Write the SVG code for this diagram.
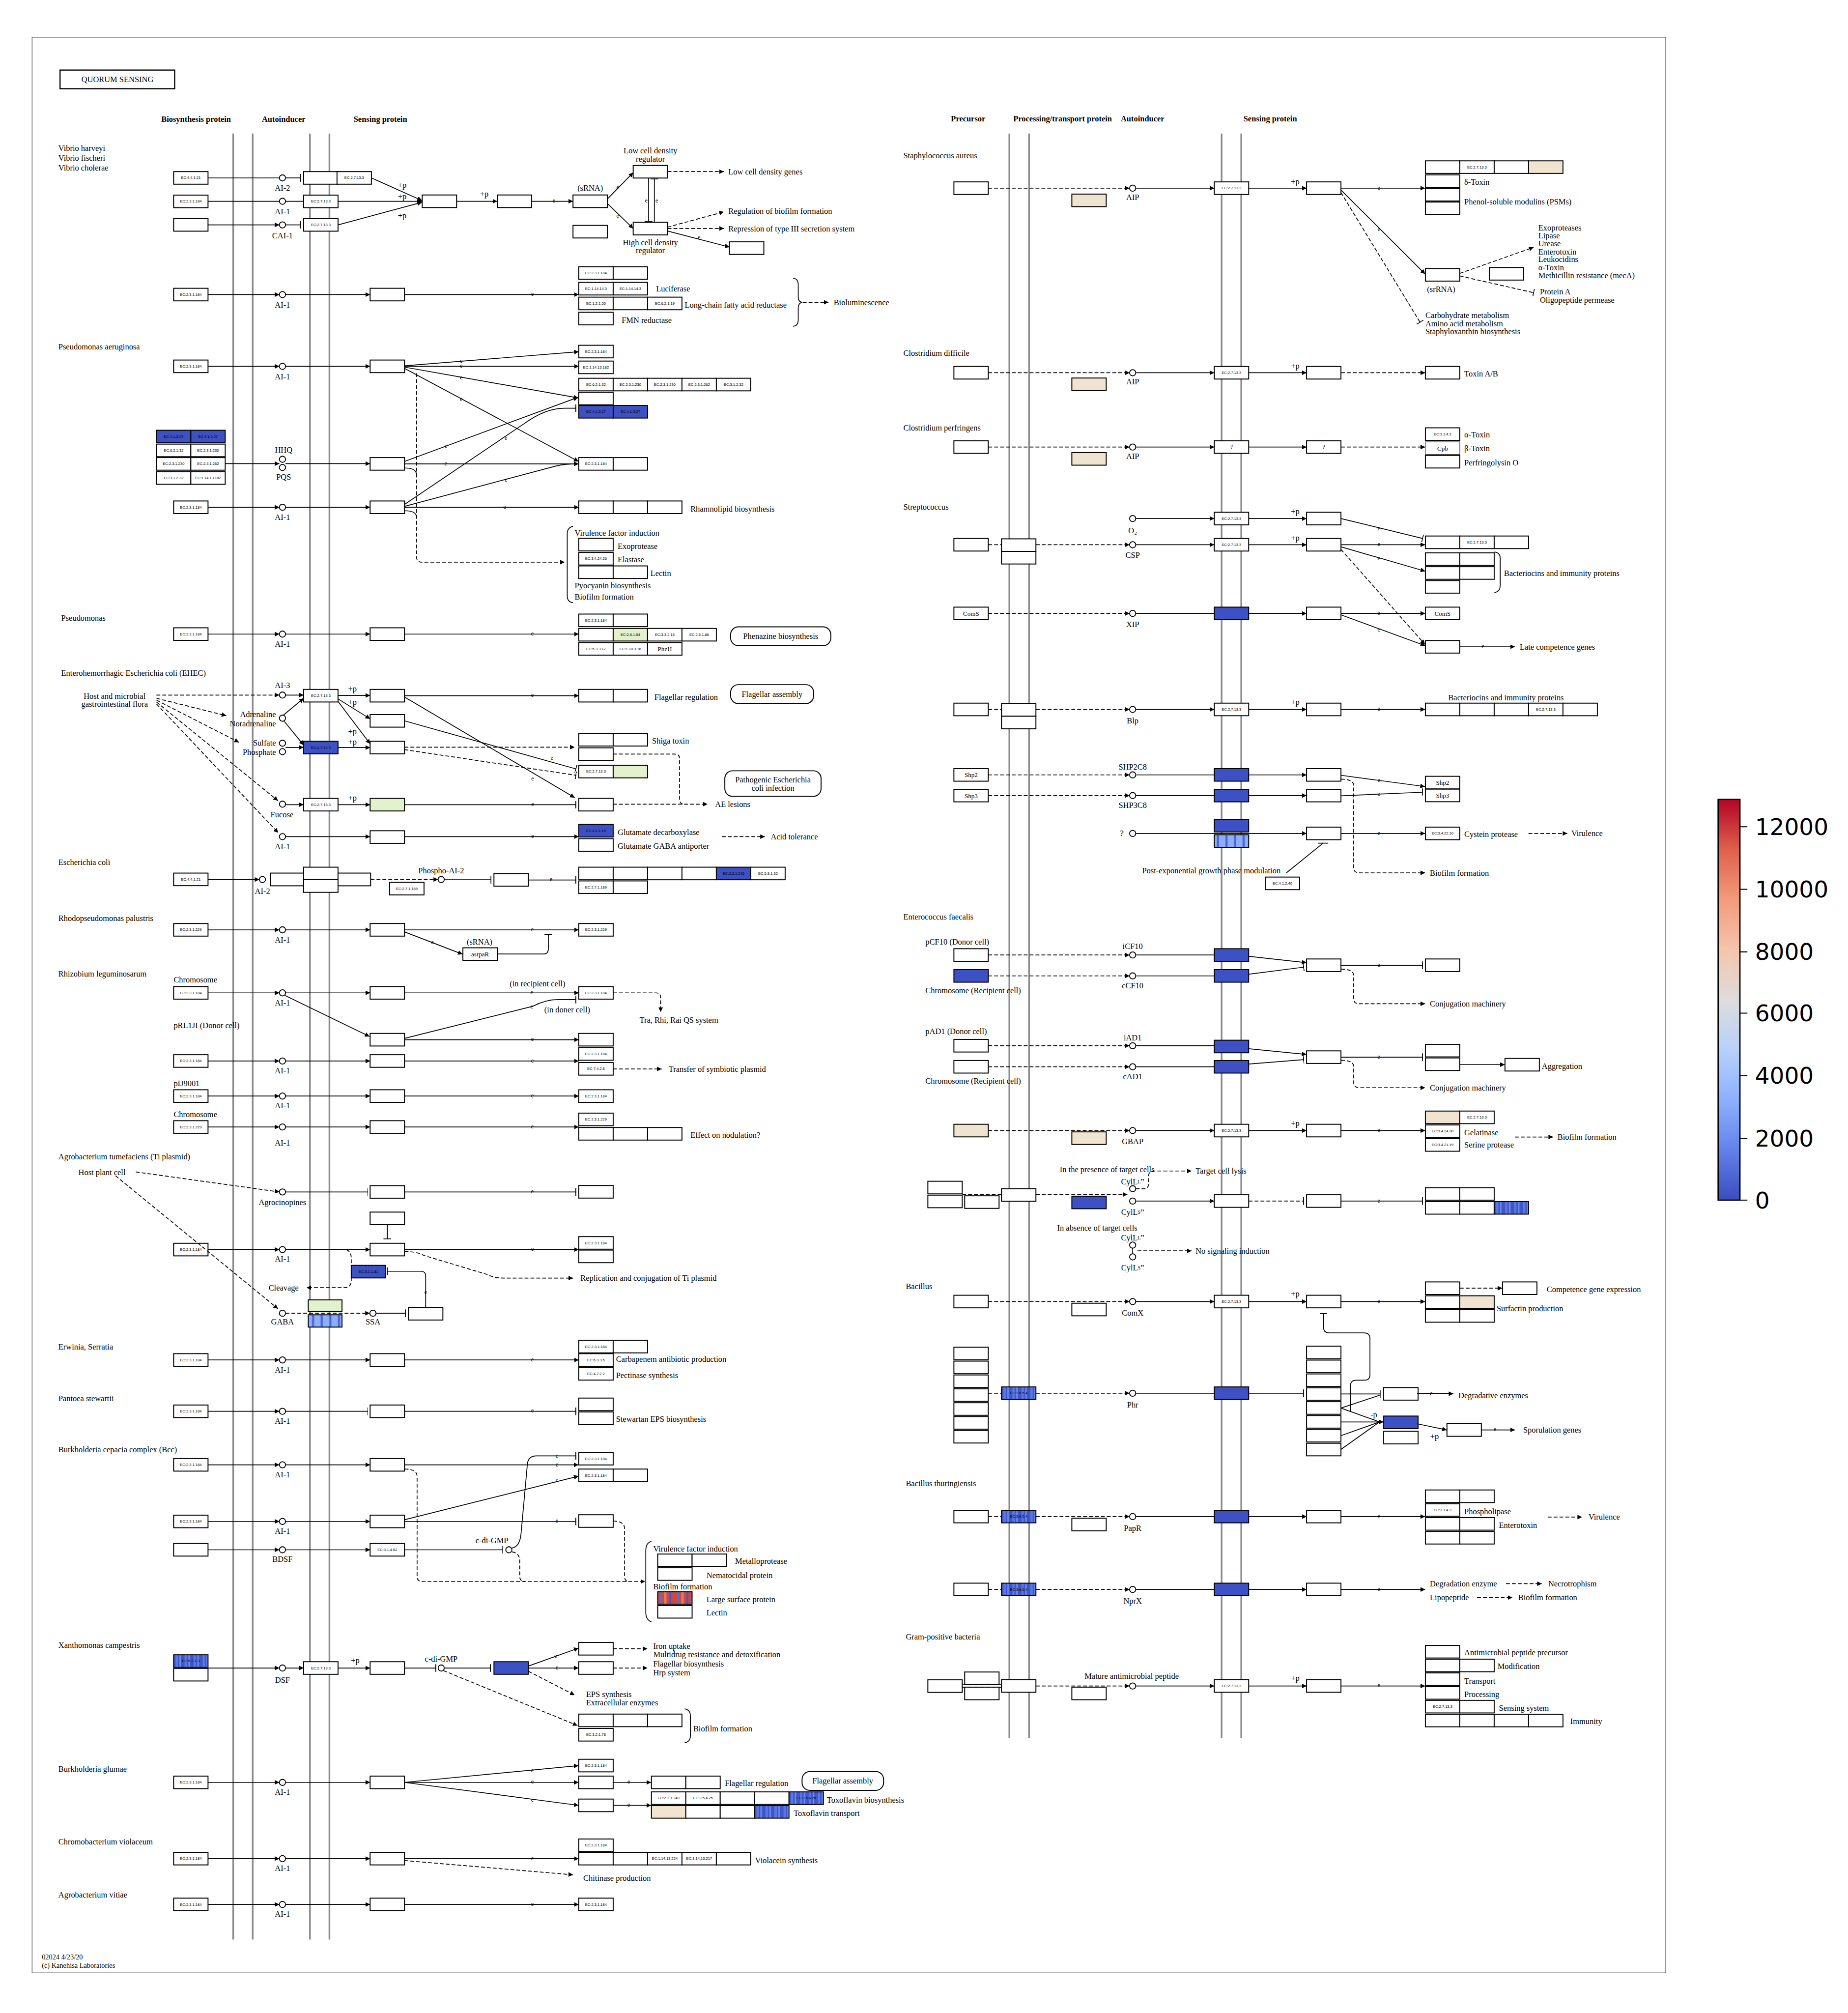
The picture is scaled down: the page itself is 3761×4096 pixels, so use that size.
<svg xmlns="http://www.w3.org/2000/svg" width="3761" height="4096" viewBox="0 0 3761 4096">
<defs>
<style>
.t{font-family:"Liberation Serif",serif;font-size:6.3px;dominant-baseline:central;fill:#000}
.m{text-anchor:middle}
.h{font-family:"Liberation Serif",serif;font-size:6.3px;font-weight:bold;text-anchor:middle;dominant-baseline:central}
.ec{font-family:"Liberation Sans",sans-serif;font-size:2.9px;text-anchor:middle;dominant-baseline:central}
.e{font-family:"Liberation Serif",serif;font-size:4.6px;text-anchor:middle;dominant-baseline:central}
.cb{font-family:"DejaVu Sans",sans-serif;font-size:18px;dominant-baseline:central}
.w{fill:#fff;stroke:#000;stroke-width:.75}
.bl{fill:#3d51c4;stroke:#000;stroke-width:.75}
.be{fill:#f0e4d0;stroke:#000;stroke-width:.75}
.gr{fill:#e3f1cc;stroke:#000;stroke-width:.75}
.sb{fill:url(#sb);stroke:#000;stroke-width:.75}
.sl{fill:url(#sl);stroke:#000;stroke-width:.75}
.sr{fill:url(#sr);stroke:#000;stroke-width:.75}
.c{fill:#fff;stroke:#000;stroke-width:.7}
.l{fill:none;stroke:#000;stroke-width:.65}
.d{stroke-dasharray:3 1.6}
.a{marker-end:url(#a)}
.i{marker-end:url(#i)}
.mem{stroke:#8a8a8a;stroke-width:1.3;fill:none}
</style>
<rect id="bx" width="26.8" height="9.8"/>
<marker id="a" viewBox="0 0 10 10" refX="10" refY="5" markerWidth="3.6" markerHeight="3.6" markerUnits="userSpaceOnUse" orient="auto"><path d="M0,0L10,5L0,10z"/></marker>
<marker id="i" viewBox="0 0 2 10" refX="1" refY="5" markerWidth=".7" markerHeight="6" markerUnits="userSpaceOnUse" orient="auto" preserveAspectRatio="none"><rect width="2" height="10"/></marker>
<pattern id="sb" patternUnits="userSpaceOnUse" width="7" height="20"><rect width="7" height="20" fill="#3f55c9"/><rect x="1.5" width="1.8" height="20" fill="#5a78e0"/><rect x="4.5" width="1.2" height="20" fill="#6b8cee"/></pattern>
<pattern id="sl" patternUnits="userSpaceOnUse" width="6.7" height="20"><rect width="6.7" height="20" fill="#8caefb"/><rect x="2" width="1.6" height="20" fill="#4a62d6"/></pattern>
<pattern id="sr" patternUnits="userSpaceOnUse" width="13.4" height="20"><rect width="13.4" height="20" fill="#cf4a3e"/><rect x="2" width="1.5" height="20" fill="#5a6fd0"/><rect x="5" width="1.8" height="20" fill="#e87a62"/><rect x="9" width="1.5" height="20" fill="#4457c8"/></pattern>
<linearGradient id="cw" x1="0" y1="1" x2="0" y2="0"><stop offset="0" stop-color="#3b4cc0"/><stop offset=".125" stop-color="#6282ea"/><stop offset=".25" stop-color="#8db0fe"/><stop offset=".375" stop-color="#b8d0f9"/><stop offset=".5" stop-color="#dddcdc"/><stop offset=".625" stop-color="#f5c4ac"/><stop offset=".75" stop-color="#f39a7b"/><stop offset=".875" stop-color="#de604d"/><stop offset="1" stop-color="#b40426"/></linearGradient>
</defs>
<rect width="3761" height="4096" fill="#fff"/>
<g transform="scale(2.6118)">
<rect x="25" y="29" width="1273" height="1508" fill="none" stroke="#444" stroke-width=".5"/>
<g id="title"><rect x="46.8" y="54.6" width="89.3" height="14.5" fill="#fff" stroke="#000" stroke-width=".9"/><text class="t m" x="91.5" y="62">QUORUM SENSING</text></g>
<g id="headers">
<text class="h" x="152.8" y="92.8">Biosynthesis protein</text><text class="h" x="221" y="92.8">Autoinducer</text><text class="h" x="296.4" y="92.8">Sensing protein</text>
<text class="h" x="754.4" y="92.6">Precursor</text><text class="h" x="828" y="92.6">Processing/transport protein</text><text class="h" x="890.3" y="92.6">Autoinducer</text><text class="h" x="989.8" y="92.6">Sensing protein</text>
</g>
<g id="membranes">
<path class="mem" d="M181.7,104V1511M196.9,104V1511M241.5,104V1511M256.7,104V1511M786.5,104V1354M801.9,104V1354M951.9,104V1354M967.2,104V1354"/>
</g>
<g id="footer"><text class="t" x="32.6" y="1524.8" style="font-size:5.5px">02024 4/23/20</text><text class="t" x="32.6" y="1531.2" style="font-size:5.5px">(c) Kanehisa Laboratories</text></g>

<!-- ===== LEFT NODES ===== -->
<g id="vibrio">
<text class="t" x="45.5" y="115.5">Vibrio harveyi</text><text class="t" x="45.5" y="123">Vibrio fischeri</text><text class="t" x="45.5" y="130.7">Vibrio cholerae</text>
<g transform="translate(135.3,133.7)"><use href="#bx" class="w"/><text class="ec" x="13.4" y="4.9">EC:4.4.1.21</text></g>
<g transform="translate(135.3,152)"><use href="#bx" class="w"/><text class="ec" x="13.4" y="4.9">EC:2.3.1.184</text></g>
<use href="#bx" class="w" x="135.3" y="170.3"/>
<circle class="c" cx="220.1" cy="138.6" r="2.4"/><circle class="c" cx="220.1" cy="156.8" r="2.4"/><circle class="c" cx="220.1" cy="175.2" r="2.4"/>
<text class="t m" x="220.1" y="146.5">AI-2</text><text class="t m" x="220.1" y="164.9">AI-1</text><text class="t m" x="220.1" y="183.7">CAI-1</text>
<use href="#bx" class="w" x="236.6" y="133.7"/>
<g transform="translate(262.6,133.7)"><use href="#bx" class="w"/><text class="ec" x="13.4" y="4.9">EC:2.7.13.3</text></g>
<g transform="translate(236.6,152)"><use href="#bx" class="w"/><text class="ec" x="13.4" y="4.9">EC:2.7.13.3</text></g>
<g transform="translate(236.6,170.3)"><use href="#bx" class="w"/><text class="ec" x="13.4" y="4.9">EC:2.7.13.3</text></g>
<text class="t m" x="313.4" y="144.2">+p</text><text class="t m" x="313.4" y="153">+p</text><text class="t m" x="313.4" y="167.9">+p</text>
<use href="#bx" class="w" x="329" y="151.9"/><use href="#bx" class="w" x="387.5" y="151.9"/><text class="t m" x="377.3" y="151">+p</text>
<use href="#bx" class="w" x="446.5" y="151.9"/><text class="t m" x="459.9" y="146.5">(sRNA)</text>
<use href="#bx" class="w" x="446.5" y="175.6"/>
<use href="#bx" class="w" x="493.4" y="128.9"/><text class="t m" x="506.8" y="117.3">Low cell density</text><text class="t m" x="506.8" y="124">regulator</text>
<use href="#bx" class="w" x="493.4" y="173.2"/><text class="t m" x="506.8" y="189">High cell density</text><text class="t m" x="506.8" y="195">regulator</text>
<text class="t" x="567.5" y="133.7">Low cell density genes</text>
<text class="t" x="567.5" y="164.3">Regulation of biofilm formation</text>
<text class="t" x="567.5" y="178.1">Repression of type III secretion system</text>
<use href="#bx" class="w" x="568.4" y="188.4"/>
</g>
<g id="vibrio-biolum">
<g transform="translate(135.3,224.6)"><use href="#bx" class="w"/><text class="ec" x="13.4" y="4.9">EC:2.3.1.184</text></g>
<circle class="c" cx="220.1" cy="229.5" r="2.4"/><text class="t m" x="220.1" y="237.4">AI-1</text>
<use href="#bx" class="w" x="288.4" y="224.6"/>
<g transform="translate(451,207.8)"><use href="#bx" class="w"/><text class="ec" x="13.4" y="4.9">EC:2.3.1.184</text></g><use href="#bx" class="w" x="477.8" y="207.8"/>
<g transform="translate(451,220)"><use href="#bx" class="w"/><text class="ec" x="13.4" y="4.9">EC:1.14.14.3</text></g>
<g transform="translate(477.8,220)"><use href="#bx" class="w"/><text class="ec" x="13.4" y="4.9">EC:1.14.14.3</text></g>
<text class="t" x="511.2" y="225">Luciferase</text>
<g transform="translate(451,231.5)"><use href="#bx" class="w"/><text class="ec" x="13.4" y="4.9">EC:1.2.1.50</text></g><use href="#bx" class="w" x="477.8" y="231.5"/>
<g transform="translate(504.6,231.5)"><use href="#bx" class="w"/><text class="ec" x="13.4" y="4.9">EC:6.2.1.19</text></g>
<text class="t" x="533.5" y="237.4">Long-chain fatty acid reductase</text>
<use href="#bx" class="w" x="451" y="243.3"/><text class="t" x="484.4" y="249.3">FMN reductase</text>
<path class="l" d="M618,216.7Q622,217 622,222V231Q622,235.5 625,235.5Q622,236 622,240V249Q622,254 618,254.2"/>
<text class="t" x="649.6" y="235.5">Bioluminescence</text>
</g>
<g id="p-aeruginosa">
<text class="t" x="45.5" y="270">Pseudomonas aeruginosa</text>
<g transform="translate(135.3,280.5)"><use href="#bx" class="w"/><text class="ec" x="13.4" y="4.9">EC:2.3.1.184</text></g>
<circle class="c" cx="220.1" cy="285.4" r="2.4"/><text class="t m" x="220.1" y="293.4">AI-1</text>
<use href="#bx" class="w" x="288.4" y="280.5"/>
<g transform="translate(451,269)"><use href="#bx" class="w"/><text class="ec" x="13.4" y="4.9">EC:2.3.1.184</text></g>
<g transform="translate(451,281.3)"><use href="#bx" class="w"/><text class="ec" x="13.4" y="4.9">EC:1.14.13.182</text></g>
<g transform="translate(451,294.7)"><use href="#bx" class="w"/><text class="ec" x="13.4" y="4.9">EC:6.2.1.32</text></g>
<g transform="translate(477.8,294.7)"><use href="#bx" class="w"/><text class="ec" x="13.4" y="4.9">EC:2.3.1.230</text></g>
<g transform="translate(504.6,294.7)"><use href="#bx" class="w"/><text class="ec" x="13.4" y="4.9">EC:2.3.1.230</text></g>
<g transform="translate(531.4,294.7)"><use href="#bx" class="w"/><text class="ec" x="13.4" y="4.9">EC:2.3.1.262</text></g>
<g transform="translate(558.2,294.7)"><use href="#bx" class="w"/><text class="ec" x="13.4" y="4.9">EC:3.1.2.32</text></g>
<use href="#bx" class="w" x="451" y="305.6"/>
<g transform="translate(451,315.9)"><use href="#bx" class="bl"/><text class="ec" x="13.4" y="4.9">EC:4.1.3.27</text></g>
<g transform="translate(477.8,315.9)"><use href="#bx" class="bl"/><text class="ec" x="13.4" y="4.9">EC:4.1.3.27</text></g>
<g transform="translate(121.9,335.2)"><use href="#bx" class="bl"/><text class="ec" x="13.4" y="4.9">EC:4.1.3.27</text></g>
<g transform="translate(148.7,335.2)"><use href="#bx" class="bl"/><text class="ec" x="13.4" y="4.9">EC:4.1.3.27</text></g>
<g transform="translate(121.9,346)"><use href="#bx" class="w"/><text class="ec" x="13.4" y="4.9">EC:6.2.1.32</text></g>
<g transform="translate(148.7,346)"><use href="#bx" class="w"/><text class="ec" x="13.4" y="4.9">EC:2.3.1.230</text></g>
<g transform="translate(121.9,356.5)"><use href="#bx" class="w"/><text class="ec" x="13.4" y="4.9">EC:2.3.1.230</text></g>
<g transform="translate(148.7,356.5)"><use href="#bx" class="w"/><text class="ec" x="13.4" y="4.9">EC:2.3.1.262</text></g>
<g transform="translate(121.9,367.5)"><use href="#bx" class="w"/><text class="ec" x="13.4" y="4.9">EC:3.1.2.32</text></g>
<g transform="translate(148.7,367.5)"><use href="#bx" class="w"/><text class="ec" x="13.4" y="4.9">EC:1.14.13.182</text></g>
<circle class="c" cx="220.1" cy="357.8" r="2.4"/><circle class="c" cx="220.1" cy="364.2" r="2.4"/>
<text class="t m" x="221" y="350.7">HHQ</text><text class="t m" x="221" y="371.6">PQS</text>
<use href="#bx" class="w" x="288.4" y="356.5"/>
<g transform="translate(451,356.5)"><use href="#bx" class="w"/><text class="ec" x="13.4" y="4.9">EC:2.3.1.184</text></g><use href="#bx" class="w" x="477.8" y="356.5"/>
<g transform="translate(135.3,390.3)"><use href="#bx" class="w"/><text class="ec" x="13.4" y="4.9">EC:2.3.1.184</text></g>
<circle class="c" cx="220.1" cy="395.2" r="2.4"/><text class="t m" x="220.1" y="402.8">AI-1</text>
<use href="#bx" class="w" x="288.4" y="390.3"/>
<use href="#bx" class="w" x="451" y="390.3"/><use href="#bx" class="w" x="477.8" y="390.3"/><use href="#bx" class="w" x="504.6" y="390.3"/>
<text class="t" x="538" y="396.5">Rhamnolipid biosynthesis</text>
<path class="l" d="M446.5,410Q442,411 442,416V464Q442,469 446.5,469.5"/>
<text class="t" x="447.8" y="415.2">Virulence factor induction</text>
<use href="#bx" class="w" x="451" y="419.4"/><text class="t" x="481.3" y="425.5">Exoprotease</text>
<g transform="translate(451,430.4)"><use href="#bx" class="w"/><text class="ec" x="13.4" y="4.9">EC:3.4.24.26</text></g><text class="t" x="481.3" y="436">Elastase</text>
<use href="#bx" class="w" x="451" y="440.9"/><use href="#bx" class="w" x="477.8" y="440.9"/><text class="t" x="506.8" y="446.8">Lectin</text>
<text class="t" x="447.8" y="456.3">Pyocyanin biosynthesis</text><text class="t" x="447.8" y="464.9">Biofilm formation</text>
</g>
<g id="pseudomonas">
<text class="t" x="47.7" y="481.3">Pseudomonas</text>
<g transform="translate(135.3,489.1)"><use href="#bx" class="w"/><text class="ec" x="13.4" y="4.9">EC:2.3.1.184</text></g>
<circle class="c" cx="220.1" cy="494" r="2.4"/><text class="t m" x="220.1" y="501.6">AI-1</text>
<use href="#bx" class="w" x="288.4" y="489.1"/>
<g transform="translate(451,478.4)"><use href="#bx" class="w"/><text class="ec" x="13.4" y="4.9">EC:2.3.1.184</text></g><use href="#bx" class="w" x="477.8" y="478.4"/>
<use href="#bx" class="w" x="451" y="489.6"/>
<g transform="translate(477.8,489.6)"><use href="#bx" class="gr"/><text class="ec" x="13.4" y="4.9">EC:2.5.1.54</text></g>
<g transform="translate(504.6,489.6)"><use href="#bx" class="w"/><text class="ec" x="13.4" y="4.9">EC:3.3.2.15</text></g>
<g transform="translate(531.4,489.6)"><use href="#bx" class="w"/><text class="ec" x="13.4" y="4.9">EC:2.6.1.86</text></g>
<g transform="translate(451,500.6)"><use href="#bx" class="w"/><text class="ec" x="13.4" y="4.9">EC:5.3.3.17</text></g>
<g transform="translate(477.8,500.6)"><use href="#bx" class="w"/><text class="ec" x="13.4" y="4.9">EC:1.10.3.16</text></g>
<g transform="translate(504.6,500.6)"><use href="#bx" class="w"/><text class="t m" x="13.4" y="5" style="font-size:5px">PhzH</text></g>
<rect x="569.3" y="488.4" width="78.1" height="14.6" rx="6" class="w"/><text class="t m" x="608.3" y="495.7">Phenazine biosynthesis</text>
</g>
<g id="ehec">
<text class="t" x="47.7" y="524.2">Enterohemorrhagic Escherichia coli (EHEC)</text>
<text class="t m" x="89.3" y="542.2">Host and microbial</text><text class="t m" x="89.3" y="548.5">gastrointestinal flora</text>
<circle class="c" cx="220.1" cy="541.5" r="2.4"/><text class="t m" x="220.1" y="533.9">AI-3</text>
<g transform="translate(236.6,537.1)"><use href="#bx" class="w"/><text class="ec" x="13.4" y="4.9">EC:2.7.13.3</text></g>
<text class="t m" x="274.6" y="536.5">+p</text><text class="t m" x="274.6" y="547">+p</text><text class="t m" x="274.6" y="569.9">+p</text><text class="t m" x="274.6" y="578">+p</text>
<use href="#bx" class="w" x="288.4" y="537.1"/><use href="#bx" class="w" x="288.4" y="556.7"/><use href="#bx" class="w" x="288.4" y="577.5"/>
<use href="#bx" class="w" x="451" y="537.1"/><use href="#bx" class="w" x="477.8" y="537.1"/>
<text class="t" x="509.9" y="543">Flagellar regulation</text>
<rect x="569.3" y="533.4" width="64.7" height="14.7" rx="6" class="w"/><text class="t m" x="601.6" y="540.8">Flagellar assembly</text>
<circle class="c" cx="220.1" cy="559.5" r="2.4"/>
<text class="t" x="215" y="556.7" text-anchor="end">Adrenaline</text><text class="t" x="215" y="563.7" text-anchor="end">Noradrenaline</text>
<circle class="c" cx="220.1" cy="579" r="2.4"/><circle class="c" cx="220.1" cy="585.6" r="2.4"/>
<text class="t" x="215" y="578.6" text-anchor="end">Sulfate</text><text class="t" x="215" y="586" text-anchor="end">Phosphate</text>
<g transform="translate(236.6,577.5)"><use href="#bx" class="bl"/><text class="ec" x="13.4" y="4.9">EC:2.7.13.3</text></g>
<use href="#bx" class="w" x="451" y="571.4"/><use href="#bx" class="w" x="477.8" y="571.4"/><text class="t" x="508.1" y="577">Shiga toxin</text>
<use href="#bx" class="w" x="451" y="582.6"/>
<g transform="translate(451,596.2)"><use href="#bx" class="w"/><text class="ec" x="13.4" y="4.9">EC:2.7.13.3</text></g><use href="#bx" class="gr" x="477.8" y="596.2"/>
<rect x="564.8" y="600.5" width="75" height="19.9" rx="6" class="w"/><text class="t m" x="602.3" y="607.3">Pathogenic Escherichia</text><text class="t m" x="602.3" y="614">coli infection</text>
<circle class="c" cx="220.1" cy="626.5" r="2.4"/><text class="t m" x="219.7" y="634.5">Fucose</text>
<g transform="translate(236.6,622)"><use href="#bx" class="w"/><text class="ec" x="13.4" y="4.9">EC:2.7.13.3</text></g>
<text class="t m" x="274.6" y="621.5">+p</text>
<use href="#bx" class="gr" x="288.4" y="622"/>
<use href="#bx" class="w" x="451" y="622"/><text class="t" x="557.2" y="626.5">AE lesions</text>
<circle class="c" cx="220.1" cy="651.8" r="2.4"/><text class="t m" x="220.1" y="659.5">AI-1</text>
<use href="#bx" class="w" x="288.4" y="647.2"/>
<g transform="translate(451,642.3)"><use href="#bx" class="bl"/><text class="ec" x="13.4" y="4.9">EC:4.1.1.15</text></g><text class="t" x="481.3" y="648.5">Glutamate decarboxylase</text>
<use href="#bx" class="w" x="451" y="653.4"/><text class="t" x="481.3" y="659.2">Glutamate GABA antiporter</text>
<text class="t" x="600.5" y="652">Acid tolerance</text>
</g>
<g id="ecoli">
<text class="t" x="45.5" y="671.7">Escherichia coli</text>
<g transform="translate(135.3,680.2)"><use href="#bx" class="w"/><text class="ec" x="13.4" y="4.9">EC:4.4.1.21</text></g>
<circle class="c" cx="204.5" cy="685.2" r="2.4"/><text class="t m" x="204.5" y="694.4">AI-2</text>
<rect class="w" x="210.7" y="680.2" width="25.9" height="9.9"/><rect class="w" x="236.6" y="675.6" width="26.8" height="9.6"/><rect class="w" x="236.6" y="685.2" width="26.8" height="10"/><rect class="w" x="263.4" y="680.2" width="25.4" height="9.9"/>
<circle class="c" cx="343.8" cy="685.2" r="2.4"/><text class="t m" x="343.8" y="678.2">Phospho-AI-2</text>
<g transform="translate(303.6,687.4)"><use href="#bx" class="w"/><text class="ec" x="13.4" y="4.9">EC:2.7.1.189</text></g>
<use href="#bx" class="w" x="384.9" y="680.6"/>
<use href="#bx" class="w" x="451" y="675.6"/><use href="#bx" class="w" x="477.8" y="675.6"/><use href="#bx" class="w" x="504.6" y="675.6"/><use href="#bx" class="w" x="531.4" y="675.6"/>
<g transform="translate(558.2,675.6)"><use href="#bx" class="bl"/><text class="ec" x="13.4" y="4.9">EC:2.3.1.245</text></g>
<g transform="translate(585,675.6)"><use href="#bx" class="w"/><text class="ec" x="13.4" y="4.9">EC:5.3.1.32</text></g>
<g transform="translate(451,686.3)"><use href="#bx" class="w"/><text class="ec" x="13.4" y="4.9">EC:2.7.1.189</text></g><use href="#bx" class="w" x="477.8" y="686.3"/>
</g>
<g id="rhodopseudomonas">
<text class="t" x="45.5" y="715.4">Rhodopseudomonas palustris</text>
<g transform="translate(135.3,719.5)"><use href="#bx" class="w"/><text class="ec" x="13.4" y="4.9">EC:2.3.1.229</text></g>
<circle class="c" cx="220.1" cy="724.4" r="2.4"/><text class="t m" x="220.1" y="732.3">AI-1</text>
<use href="#bx" class="w" x="288.4" y="719.5"/>
<g transform="translate(451,719.5)"><use href="#bx" class="w"/><text class="ec" x="13.4" y="4.9">EC:2.3.1.229</text></g>
<g transform="translate(360.7,738.4)"><use href="#bx" class="w"/><text class="t m" x="13.4" y="5" style="font-size:5px">asrpaR</text></g>
<text class="t m" x="373.7" y="733.8">(sRNA)</text>
</g>
<g id="rhizobium">
<text class="t" x="45.5" y="758.5">Rhizobium leguminosarum</text>
<text class="t" x="135.3" y="763.4">Chromosome</text>
<g transform="translate(135.3,768.6)"><use href="#bx" class="w"/><text class="ec" x="13.4" y="4.9">EC:2.3.1.184</text></g>
<circle class="c" cx="220.1" cy="773.5" r="2.4"/><text class="t m" x="220.1" y="781.3">AI-1</text>
<use href="#bx" class="w" x="288.4" y="768.6"/>
<g transform="translate(451,768.6)"><use href="#bx" class="w"/><text class="ec" x="13.4" y="4.9">EC:2.3.1.184</text></g>
<text class="t m" x="418.8" y="766.4">(in recipient cell)</text><text class="t m" x="442" y="786.8">(in doner cell)</text>
<text class="t m" x="529" y="794.6">Tra, Rhi, Rai QS system</text>
<text class="t" x="135.3" y="799">pRL1JI (Donor cell)</text>
<use href="#bx" class="w" x="288.4" y="805.1"/><use href="#bx" class="w" x="451" y="805.1"/>
<g transform="translate(135.3,821.7)"><use href="#bx" class="w"/><text class="ec" x="13.4" y="4.9">EC:2.3.1.184</text></g>
<circle class="c" cx="220.1" cy="826.6" r="2.4"/><text class="t m" x="220.1" y="834">AI-1</text>
<use href="#bx" class="w" x="288.4" y="821.7"/>
<g transform="translate(451,816.2)"><use href="#bx" class="w"/><text class="ec" x="13.4" y="4.9">EC:2.3.1.184</text></g>
<g transform="translate(451,827.8)"><use href="#bx" class="w"/><text class="ec" x="13.4" y="4.9">EC:7.4.2.8</text></g>
<text class="t" x="521" y="832.8">Transfer of symbiotic plasmid</text>
<text class="t" x="135.3" y="844">pIJ9001</text>
<g transform="translate(135.3,849)"><use href="#bx" class="w"/><text class="ec" x="13.4" y="4.9">EC:2.3.1.184</text></g>
<circle class="c" cx="220.1" cy="853.9" r="2.4"/><text class="t m" x="220.1" y="861.4">AI-1</text>
<use href="#bx" class="w" x="288.4" y="849"/>
<g transform="translate(451,849)"><use href="#bx" class="w"/><text class="ec" x="13.4" y="4.9">EC:2.3.1.184</text></g>
<text class="t" x="135.3" y="868">Chromosome</text>
<g transform="translate(135.3,873.1)"><use href="#bx" class="w"/><text class="ec" x="13.4" y="4.9">EC:2.3.1.229</text></g>
<circle class="c" cx="220.1" cy="878" r="2.4"/><text class="t m" x="220.1" y="890.5">AI-1</text>
<use href="#bx" class="w" x="288.4" y="873.1"/>
<g transform="translate(451,867.2)"><use href="#bx" class="w"/><text class="ec" x="13.4" y="4.9">EC:2.3.1.229</text></g>
<use href="#bx" class="w" x="451" y="878.4"/><use href="#bx" class="w" x="477.8" y="878.4"/><use href="#bx" class="w" x="504.6" y="878.4"/>
<text class="t" x="538" y="884.3">Effect on nodulation?</text>
</g>
<g id="agrobacterium">
<text class="t" x="45.5" y="901.2">Agrobacterium tumefaciens (Ti plasmid)</text>
<text class="t" x="61.1" y="913.3">Host plant cell</text>
<circle class="c" cx="220.1" cy="928.6" r="2.4"/><text class="t m" x="220.1" y="936.9">Agrocinopines</text>
<use href="#bx" class="w" x="288.4" y="923.7"/><use href="#bx" class="w" x="451" y="923.6"/>
<use href="#bx" class="w" x="288.4" y="944.3"/>
<g transform="translate(135.3,968.6)"><use href="#bx" class="w"/><text class="ec" x="13.4" y="4.9">EC:2.3.1.184</text></g>
<circle class="c" cx="220.1" cy="973.5" r="2.4"/><text class="t m" x="220.1" y="980.8">AI-1</text>
<use href="#bx" class="w" x="288.4" y="968.6"/>
<g transform="translate(451,963.4)"><use href="#bx" class="w"/><text class="ec" x="13.4" y="4.9">EC:2.3.1.184</text></g><use href="#bx" class="w" x="451" y="973.9"/>
<text class="t" x="452.3" y="995.7">Replication and conjugation of Ti plasmid</text>
<g transform="translate(273.7,985.8)"><use href="#bx" class="bl"/><text class="ec" x="13.4" y="4.9">EC:3.1.1.81</text></g>
<use href="#bx" class="w" x="318.3" y="1018.6"/>
<text class="t m" x="221" y="1003.2">Cleavage</text>
<circle class="c" cx="220.1" cy="1023.1" r="2.4"/><text class="t m" x="220.1" y="1029.7">GABA</text>
<rect class="gr" x="240.2" y="1012.7" width="26.3" height="9.2"/><rect class="sl" x="240.2" y="1024.3" width="26.3" height="9.6"/>
<circle class="c" cx="290.6" cy="1023.1" r="2.4"/><text class="t m" x="290.6" y="1029.7">SSA</text>
</g>
<g id="erwinia">
<text class="t" x="45.5" y="1049.3">Erwinia, Serratia</text>
<g transform="translate(135.3,1054.6)"><use href="#bx" class="w"/><text class="ec" x="13.4" y="4.9">EC:2.3.1.184</text></g>
<circle class="c" cx="220.1" cy="1059.5" r="2.4"/><text class="t m" x="220.1" y="1067.3">AI-1</text>
<use href="#bx" class="w" x="288.4" y="1054.6"/>
<g transform="translate(451,1044.2)"><use href="#bx" class="w"/><text class="ec" x="13.4" y="4.9">EC:2.3.1.184</text></g><use href="#bx" class="w" x="477.8" y="1044.2"/>
<g transform="translate(451,1054.6)"><use href="#bx" class="w"/><text class="ec" x="13.4" y="4.9">EC:6.3.3.6</text></g>
<g transform="translate(451,1065.4)"><use href="#bx" class="w"/><text class="ec" x="13.4" y="4.9">EC:4.2.2.2</text></g>
<text class="t" x="480" y="1058.7">Carbapenem antibiotic production</text><text class="t" x="480" y="1071.5">Pectinase synthesis</text>
</g>
<g id="pantoea">
<text class="t" x="45.5" y="1089.4">Pantoea stewartii</text>
<g transform="translate(135.3,1094.6)"><use href="#bx" class="w"/><text class="ec" x="13.4" y="4.9">EC:2.3.1.184</text></g>
<circle class="c" cx="220.1" cy="1099.5" r="2.4"/><text class="t m" x="220.1" y="1107.1">AI-1</text>
<use href="#bx" class="w" x="288.4" y="1094.6"/>
<use href="#bx" class="w" x="451" y="1089.2"/><use href="#bx" class="w" x="451" y="1100"/>
<text class="t" x="480" y="1105.6">Stewartan EPS biosynthesis</text>
</g>
<g id="bcc">
<text class="t" x="45.5" y="1129.3">Burkholderia cepacia complex (Bcc)</text>
<g transform="translate(135.3,1136.3)"><use href="#bx" class="w"/><text class="ec" x="13.4" y="4.9">EC:2.3.1.184</text></g>
<circle class="c" cx="220.1" cy="1141.2" r="2.4"/><text class="t m" x="220.1" y="1148.7">AI-1</text>
<use href="#bx" class="w" x="288.4" y="1136.3"/>
<g transform="translate(451,1131.5)"><use href="#bx" class="w"/><text class="ec" x="13.4" y="4.9">EC:2.3.1.184</text></g>
<g transform="translate(451,1144.5)"><use href="#bx" class="w"/><text class="ec" x="13.4" y="4.9">EC:2.3.1.184</text></g><use href="#bx" class="w" x="477.8" y="1144.5"/>
<g transform="translate(135.3,1180.4)"><use href="#bx" class="w"/><text class="ec" x="13.4" y="4.9">EC:2.3.1.184</text></g>
<circle class="c" cx="220.1" cy="1185.3" r="2.4"/><text class="t m" x="220.1" y="1192.8">AI-1</text>
<use href="#bx" class="w" x="288.4" y="1180.4"/><use href="#bx" class="w" x="451" y="1180.1"/>
<use href="#bx" class="w" x="135.3" y="1202.5"/>
<circle class="c" cx="220.1" cy="1207.4" r="2.4"/><text class="t m" x="220.1" y="1214.8">BDSF</text>
<g transform="translate(288.4,1202.5)"><use href="#bx" class="w"/><text class="ec" x="13.4" y="4.9">EC:3.1.4.52</text></g>
<circle class="c" cx="396.5" cy="1207.4" r="2.4"/><text class="t m" x="383.3" y="1200">c-di-GMP</text>
<path class="l" d="M507.6,1200.8Q503.2,1202 503.2,1208V1256Q503.2,1262 507.6,1263.5"/>
<text class="t" x="509" y="1206.6">Virulence factor induction</text>
<use href="#bx" class="w" x="512.5" y="1210.7"/><use href="#bx" class="w" x="539.3" y="1210.7"/><text class="t" x="572.8" y="1216.4">Metalloprotease</text>
<use href="#bx" class="w" x="512.5" y="1221.4"/><text class="t" x="550.5" y="1227.5">Nematocidal protein</text>
<text class="t" x="509" y="1236">Biofilm formation</text>
<use href="#bx" class="sr" x="512.5" y="1240.1"/><text class="t" x="550.5" y="1245.9">Large surface protein</text>
<use href="#bx" class="w" x="512.5" y="1250.8"/><text class="t" x="550.5" y="1256.6">Lectin</text>
</g>
<g id="xanthomonas">
<text class="t" x="45.5" y="1281.5">Xanthomonas campestris</text>
<g transform="translate(135.3,1289.2)"><use href="#bx" class="sb"/><text class="ec" x="13.4" y="4.9">EC:6.2.1.3</text></g>
<use href="#bx" class="w" x="135.3" y="1299.8"/>
<circle class="c" cx="220.1" cy="1299.5" r="2.4"/><text class="t m" x="220.1" y="1308.8">DSF</text>
<g transform="translate(236.6,1294.6)"><use href="#bx" class="w"/><text class="ec" x="13.4" y="4.9">EC:2.7.13.3</text></g>
<text class="t m" x="276.8" y="1293.5">+p</text>
<use href="#bx" class="w" x="288.4" y="1294.6"/>
<circle class="c" cx="343.8" cy="1299.5" r="2.4"/><text class="t m" x="343.8" y="1292.3">c-di-GMP</text>
<use href="#bx" class="bl" x="384.9" y="1294.6"/>
<use href="#bx" class="w" x="451" y="1279.6"/><use href="#bx" class="w" x="451" y="1294.6"/>
<text class="t" x="509" y="1282.6">Iron uptake</text><text class="t" x="509" y="1289">Multidrug resistance and detoxification</text>
<text class="t" x="509" y="1296.3">Flagellar biosynthesis</text><text class="t" x="509" y="1303.3">Hrp system</text>
<text class="t" x="456.7" y="1319.8">EPS synthesis</text><text class="t" x="456.7" y="1326.4">Extracellular enzymes</text>
<use href="#bx" class="w" x="451" y="1335.4"/><use href="#bx" class="w" x="477.8" y="1335.4"/><use href="#bx" class="w" x="504.6" y="1335.4"/>
<g transform="translate(451,1346.6)"><use href="#bx" class="w"/><text class="ec" x="13.4" y="4.9">EC:3.2.1.78</text></g>
<path class="l" d="M533.5,1331.3Q538,1332 538,1337V1352Q538,1357 533.5,1357.7"/>
<text class="t" x="540.2" y="1346.6">Biofilm formation</text>
</g>
<g id="b-glumae">
<text class="t" x="45.5" y="1378.2">Burkholderia glumae</text>
<g transform="translate(135.3,1383.7)"><use href="#bx" class="w"/><text class="ec" x="13.4" y="4.9">EC:2.3.1.184</text></g>
<circle class="c" cx="220.1" cy="1388.6" r="2.4"/><text class="t m" x="220.1" y="1396.3">AI-1</text>
<use href="#bx" class="w" x="288.4" y="1383.7"/>
<g transform="translate(451,1370.6)"><use href="#bx" class="w"/><text class="ec" x="13.4" y="4.9">EC:2.3.1.184</text></g>
<use href="#bx" class="w" x="451" y="1383.7"/><use href="#bx" class="w" x="451" y="1401.6"/>
<use href="#bx" class="w" x="507.6" y="1383.7"/><use href="#bx" class="w" x="534.4" y="1383.7"/>
<text class="t" x="564.8" y="1389.4">Flagellar regulation</text>
<rect x="625" y="1380.2" width="63.5" height="14.6" rx="6" class="w"/><text class="t m" x="656.7" y="1387.5">Flagellar assembly</text>
<g transform="translate(507.6,1396)"><use href="#bx" class="w"/><text class="ec" x="13.4" y="4.9">EC:2.1.1.349</text></g>
<g transform="translate(534.4,1396)"><use href="#bx" class="w"/><text class="ec" x="13.4" y="4.9">EC:3.5.4.25</text></g>
<use href="#bx" class="w" x="561.2" y="1396"/><use href="#bx" class="w" x="588" y="1396"/>
<g transform="translate(614.8,1396)"><use href="#bx" class="sb"/><text class="ec" x="13.4" y="4.9">EC:3.5.4.26</text></g>
<text class="t" x="644.3" y="1402.1">Toxoflavin biosynthesis</text>
<use href="#bx" class="be" x="507.6" y="1406.7"/><use href="#bx" class="w" x="534.4" y="1406.7"/><use href="#bx" class="w" x="561.2" y="1406.7"/><use href="#bx" class="sb" x="588" y="1406.7"/>
<text class="t" x="618.4" y="1412.8">Toxoflavin transport</text>
</g>
<g id="chromobacterium">
<text class="t" x="45.5" y="1434.8">Chromobacterium violaceum</text>
<g transform="translate(135.3,1443.1)"><use href="#bx" class="w"/><text class="ec" x="13.4" y="4.9">EC:2.3.1.184</text></g>
<circle class="c" cx="220.1" cy="1448" r="2.4"/><text class="t m" x="220.1" y="1455.7">AI-1</text>
<use href="#bx" class="w" x="288.4" y="1443.1"/>
<g transform="translate(451,1432.7)"><use href="#bx" class="w"/><text class="ec" x="13.4" y="4.9">EC:2.3.1.184</text></g>
<use href="#bx" class="w" x="451" y="1443.1"/><use href="#bx" class="w" x="477.8" y="1443.1"/>
<g transform="translate(504.6,1443.1)"><use href="#bx" class="w"/><text class="ec" x="13.4" y="4.9">EC:1.14.13.224</text></g>
<g transform="translate(531.4,1443.1)"><use href="#bx" class="w"/><text class="ec" x="13.4" y="4.9">EC:1.14.13.217</text></g>
<use href="#bx" class="w" x="558.2" y="1443.1"/>
<text class="t" x="588.4" y="1449.5">Violacein synthesis</text>
<text class="t" x="454.5" y="1463.3">Chitinase production</text>
</g>
<g id="a-vitiae">
<text class="t" x="45.5" y="1476.2">Agrobacterium vitiae</text>
<g transform="translate(135.3,1478.8)"><use href="#bx" class="w"/><text class="ec" x="13.4" y="4.9">EC:2.3.1.184</text></g>
<circle class="c" cx="220.1" cy="1483.7" r="2.4"/><text class="t m" x="220.1" y="1491.2">AI-1</text>
<use href="#bx" class="w" x="288.4" y="1478.8"/>
<g transform="translate(451,1478.8)"><use href="#bx" class="w"/><text class="ec" x="13.4" y="4.9">EC:2.3.1.184</text></g>
</g>

<!-- ===== RIGHT NODES ===== -->
<g id="staph">
<text class="t" x="703.9" y="121.2">Staphylococcus aureus</text>
<use href="#bx" class="w" x="743.3" y="141.7"/><use href="#bx" class="be" x="835.2" y="151.2"/>
<circle class="c" cx="882.6" cy="146.6" r="2.4"/><text class="t m" x="882.6" y="153.9">AIP</text>
<g transform="translate(946.2,141.7)"><use href="#bx" class="w"/><text class="ec" x="13.4" y="4.9">EC:2.7.13.3</text></g>
<text class="t m" x="1009.3" y="141.3">+p</text><use href="#bx" class="w" x="1018.1" y="141.7"/>
<use href="#bx" class="w" x="1110.7" y="125.3"/>
<g transform="translate(1137.5,125.3)"><use href="#bx" class="w"/><text class="ec" x="13.4" y="4.9">EC:2.7.13.3</text></g>
<use href="#bx" class="w" x="1164.3" y="125.3"/><use href="#bx" class="be" x="1191.1" y="125.3"/>
<use href="#bx" class="w" x="1110.7" y="136.2"/><text class="t" x="1141" y="141.8">δ-Toxin</text>
<use href="#bx" class="w" x="1110.7" y="146.8"/><text class="t" x="1141" y="157">Phenol-soluble modulins (PSMs)</text>
<use href="#bx" class="w" x="1110.7" y="157.4"/>
<use href="#bx" class="w" x="1110.7" y="209.2"/><text class="t m" x="1123" y="225.4">(srRNA)</text>
<use href="#bx" class="w" x="1160.5" y="208.4"/>
<text class="t" x="1198.7" y="177.4">Exoproteases</text><text class="t" x="1198.7" y="183.7">Lipase</text><text class="t" x="1198.7" y="189.8">Urease</text><text class="t" x="1198.7" y="196.1">Enterotoxin</text><text class="t" x="1198.7" y="202.1">Leukocidins</text><text class="t" x="1198.7" y="208.4">α-Toxin</text><text class="t" x="1198.7" y="214.7">Methicillin resistance (mecA)</text>
<text class="t" x="1199.9" y="227.3">Protein A</text><text class="t" x="1199.9" y="233.9">Oligopeptide permease</text>
<text class="t" x="1110.7" y="245.8">Carbohydrate metabolism</text><text class="t" x="1110.7" y="252">Amino acid metabolism</text><text class="t" x="1110.7" y="258.4">Staphyloxanthin biosynthesis</text>
</g>
<g id="c-difficile">
<text class="t" x="703.9" y="275.1">Clostridium difficile</text>
<use href="#bx" class="w" x="743.3" y="285.5"/><use href="#bx" class="be" x="835.2" y="294.5"/>
<circle class="c" cx="882.6" cy="290.4" r="2.4"/><text class="t m" x="882.6" y="297.4">AIP</text>
<g transform="translate(946.2,285.5)"><use href="#bx" class="w"/><text class="ec" x="13.4" y="4.9">EC:2.7.13.3</text></g>
<text class="t m" x="1009.3" y="285">+p</text><use href="#bx" class="w" x="1018.1" y="285.5"/>
<use href="#bx" class="w" x="1110.7" y="285.5"/><text class="t" x="1141" y="291.3">Toxin A/B</text>
</g>
<g id="c-perfringens">
<text class="t" x="703.9" y="333.3">Clostridium perfringens</text>
<use href="#bx" class="w" x="743.3" y="343.4"/><use href="#bx" class="be" x="835.2" y="352.6"/>
<circle class="c" cx="882.6" cy="348.3" r="2.4"/><text class="t m" x="882.6" y="355.6">AIP</text>
<g transform="translate(946.2,343.4)"><use href="#bx" class="w"/><text class="t m" x="13.4" y="5" style="font-size:4.5px">?</text></g>
<g transform="translate(1018.1,343.4)"><use href="#bx" class="w"/><text class="t m" x="13.4" y="5" style="font-size:4.5px">?</text></g>
<g transform="translate(1110.7,333.3)"><use href="#bx" class="w"/><text class="ec" x="13.4" y="4.9">EC:3.1.4.3</text></g>
<g transform="translate(1110.7,344.2)"><use href="#bx" class="w" style="stroke-width:.35"/><text class="t m" x="13.4" y="5" style="font-size:5px">Cpb</text></g>
<use href="#bx" class="w" x="1110.7" y="354.8"/>
<text class="t" x="1141" y="338.8">α-Toxin</text><text class="t" x="1141" y="349.5">β-Toxin</text><text class="t" x="1141" y="360.4">Perfringolysin O</text>
</g>
<g id="streptococcus">
<text class="t" x="703.9" y="395.1">Streptococcus</text>
<circle class="c" cx="882.6" cy="404" r="2.4"/><text class="t m" x="882.6" y="413.3">O₂</text>
<g transform="translate(946.2,399.1)"><use href="#bx" class="w"/><text class="ec" x="13.4" y="4.9">EC:2.7.13.3</text></g>
<text class="t m" x="1009.3" y="398.5">+p</text><use href="#bx" class="w" x="1018.1" y="399.1"/>
<use href="#bx" class="w" x="743.3" y="419.5"/><use href="#bx" class="w" x="780.4" y="419.8"/><use href="#bx" class="w" x="780.4" y="429.6"/>
<circle class="c" cx="882.6" cy="424.4" r="2.4"/><text class="t m" x="882.6" y="432.6">CSP</text>
<g transform="translate(946.2,419.5)"><use href="#bx" class="w"/><text class="ec" x="13.4" y="4.9">EC:2.7.13.3</text></g>
<text class="t m" x="1009.3" y="419">+p</text><use href="#bx" class="w" x="1018.1" y="419.5"/>
<use href="#bx" class="w" x="1110.7" y="417.6"/>
<g transform="translate(1137.5,417.6)"><use href="#bx" class="w"/><text class="ec" x="13.4" y="4.9">EC:2.7.13.3</text></g>
<use href="#bx" class="w" x="1164.3" y="417.6"/>
<use href="#bx" class="w" x="1110.7" y="430.7"/><use href="#bx" class="w" x="1137.5" y="430.7"/>
<use href="#bx" class="w" x="1110.7" y="441.5"/><use href="#bx" class="w" x="1137.5" y="441.5"/>
<use href="#bx" class="w" x="1110.7" y="452.3"/>
<path class="l" d="M1164.5,430Q1169,430.5 1169,435V456Q1169,461 1164.5,461.7"/>
<text class="t" x="1171.9" y="446.7">Bacteriocins and immunity proteins</text>
<g transform="translate(743.3,473)"><use href="#bx" class="w"/><text class="t m" x="13.4" y="5" style="font-size:5px">ComS</text></g>
<circle class="c" cx="882.6" cy="477.9" r="2.4"/><text class="t m" x="882.6" y="486.6">XIP</text>
<use href="#bx" class="bl" x="946.2" y="473"/><use href="#bx" class="w" x="1018.1" y="473"/>
<g transform="translate(1110.7,473)"><use href="#bx" class="w"/><text class="t m" x="13.4" y="5" style="font-size:5px">ComS</text></g>
<use href="#bx" class="w" x="1110.7" y="499"/><text class="t" x="1184.2" y="503.9">Late competence genes</text>
<use href="#bx" class="w" x="743.3" y="547.8"/><use href="#bx" class="w" x="780.4" y="548.2"/><use href="#bx" class="w" x="780.4" y="558"/>
<circle class="c" cx="882.6" cy="552.7" r="2.4"/><text class="t m" x="882.6" y="561.4">Blp</text>
<g transform="translate(946.2,547.8)"><use href="#bx" class="w"/><text class="ec" x="13.4" y="4.9">EC:2.7.13.3</text></g>
<text class="t m" x="1009.3" y="547">+p</text><use href="#bx" class="w" x="1018.1" y="547.8"/>
<use href="#bx" class="w" x="1110.7" y="547.8"/><use href="#bx" class="w" x="1137.5" y="547.8"/><use href="#bx" class="w" x="1164.3" y="547.8"/>
<g transform="translate(1191.1,547.8)"><use href="#bx" class="w"/><text class="ec" x="13.4" y="4.9">EC:2.7.13.3</text></g>
<use href="#bx" class="w" x="1217.9" y="547.8"/>
<text class="t m" x="1173.5" y="543.4">Bacteriocins and immunity proteins</text>
<g transform="translate(743.3,598.8)"><use href="#bx" class="w"/><text class="t m" x="13.4" y="5" style="font-size:5px">Shp2</text></g>
<circle class="c" cx="882.6" cy="603.7" r="2.4"/><text class="t m" x="882.6" y="597.6">SHP2C8</text>
<use href="#bx" class="bl" x="946.2" y="598.8"/><use href="#bx" class="w" x="1018.1" y="598.8"/>
<g transform="translate(1110.7,604.8)"><use href="#bx" class="w"/><text class="t m" x="13.4" y="5" style="font-size:5px">Shp2</text></g>
<g transform="translate(743.3,614.9)"><use href="#bx" class="w"/><text class="t m" x="13.4" y="5" style="font-size:5px">Shp3</text></g>
<circle class="c" cx="882.6" cy="619.8" r="2.4"/><text class="t m" x="882.6" y="627.3">SHP3C8</text>
<use href="#bx" class="bl" x="946.2" y="614.9"/><use href="#bx" class="w" x="1018.1" y="614.9"/>
<g transform="translate(1110.7,614.8)"><use href="#bx" class="w"/><text class="t m" x="13.4" y="5" style="font-size:5px">Shp3</text></g>
<text class="t m" x="874.2" y="649.3">?</text><circle class="c" cx="882.6" cy="649.3" r="2.4"/>
<use href="#bx" class="bl" x="946.2" y="638.4"/><use href="#bx" class="sl" x="946.2" y="650.3"/>
<use href="#bx" class="w" x="1018.1" y="644.4"/>
<g transform="translate(1110.7,644.4)"><use href="#bx" class="w"/><text class="ec" x="13.4" y="4.9">EC:3.4.22.10</text></g>
<text class="t" x="1141" y="650.1">Cystein protease</text><text class="t" x="1224.4" y="649.3">Virulence</text>
<text class="t m" x="943.9" y="678.3">Post-exponential growth phase modulation</text>
<g transform="translate(985.9,683.3)"><use href="#bx" class="w"/><text class="ec" x="13.4" y="4.9">EC:4.1.2.40</text></g>
<text class="t" x="1114.2" y="680.1">Biofilm formation</text>
</g>
<g id="enterococcus">
<text class="t" x="703.9" y="714.3">Enterococcus faecalis</text>
<text class="t" x="721.1" y="733.6">pCF10 (Donor cell)</text>
<use href="#bx" class="w" x="743.3" y="739.1"/>
<circle class="c" cx="882.6" cy="744" r="2.4"/><text class="t m" x="882.6" y="737.1">iCF10</text>
<use href="#bx" class="bl" x="946.2" y="739.1"/>
<use href="#bx" class="bl" x="743.3" y="755.4"/><text class="t" x="721.1" y="771.8">Chromosome (Recipient cell)</text>
<circle class="c" cx="882.6" cy="760.3" r="2.4"/><text class="t m" x="882.6" y="767.9">cCF10</text>
<use href="#bx" class="bl" x="946.2" y="755.4"/>
<use href="#bx" class="w" x="1018.1" y="747.1"/><use href="#bx" class="w" x="1110.7" y="747.1"/>
<text class="t" x="1114.2" y="782">Conjugation machinery</text>
<text class="t" x="721.1" y="803.4">pAD1 (Donor cell)</text>
<use href="#bx" class="w" x="743.3" y="809.8"/>
<circle class="c" cx="882.6" cy="814.7" r="2.4"/><text class="t m" x="882.6" y="808.6">iAD1</text>
<use href="#bx" class="bl" x="946.2" y="810.4"/>
<use href="#bx" class="w" x="743.3" y="826.2"/><text class="t" x="721.1" y="842">Chromosome (Recipient cell)</text>
<circle class="c" cx="882.6" cy="831.1" r="2.4"/><text class="t m" x="882.6" y="838.7">cAD1</text>
<use href="#bx" class="bl" x="946.2" y="826.2"/>
<use href="#bx" class="w" x="1018.1" y="818.7"/>
<use href="#bx" class="w" x="1110.7" y="813.6"/><use href="#bx" class="w" x="1110.7" y="824.2"/>
<use href="#bx" class="w" x="1172.7" y="824.6"/><text class="t" x="1201.4" y="830.8">Aggregation</text>
<text class="t" x="1114.2" y="847.4">Conjugation machinery</text>
<use href="#bx" class="be" x="743.3" y="875.9"/><use href="#bx" class="be" x="835.2" y="881.8"/>
<circle class="c" cx="882.6" cy="880.8" r="2.4"/><text class="t m" x="882.6" y="889.3">GBAP</text>
<g transform="translate(946.2,875.9)"><use href="#bx" class="w"/><text class="ec" x="13.4" y="4.9">EC:2.7.13.3</text></g>
<text class="t m" x="1009.3" y="875">+p</text><use href="#bx" class="w" x="1018.1" y="875.9"/>
<use href="#bx" class="be" x="1110.7" y="865.6"/>
<g transform="translate(1137.5,865.6)"><use href="#bx" class="w"/><text class="ec" x="13.4" y="4.9">EC:2.7.13.3</text></g>
<g transform="translate(1110.7,876.4)"><use href="#bx" class="w"/><text class="ec" x="13.4" y="4.9">EC:3.4.24.30</text></g>
<g transform="translate(1110.7,887.1)"><use href="#bx" class="w"/><text class="ec" x="13.4" y="4.9">EC:3.4.21.19</text></g>
<text class="t" x="1141" y="882.2">Gelatinase</text><text class="t" x="1141" y="891.8">Serine protease</text>
<text class="t" x="1213.6" y="885.8">Biofilm formation</text>
<text class="t m" x="862.7" y="911.2">In the presence of target cells</text><text class="t" x="931.6" y="912.3">Target cell lysis</text>
<text class="t m" x="882.6" y="920.6">CylL<tspan style="font-size:4px">L</tspan>”</text>
<circle class="c" cx="882.6" cy="926.1" r="2.4"/><circle class="c" cx="882.6" cy="935.7" r="2.4"/>
<text class="t m" x="882.6" y="944.3">CylL<tspan style="font-size:4px">S</tspan>”</text>
<use href="#bx" class="w" x="723" y="920.3"/><use href="#bx" class="w" x="723" y="931.1"/><use href="#bx" class="w" x="751.7" y="931.6"/>
<use href="#bx" class="w" x="780.4" y="926.1"/><use href="#bx" class="bl" x="835.2" y="931.9"/>
<use href="#bx" class="w" x="946.2" y="930.8"/><use href="#bx" class="w" x="1018.1" y="930.8"/>
<use href="#bx" class="w" x="1110.7" y="925.3"/><use href="#bx" class="w" x="1137.5" y="925.3"/>
<use href="#bx" class="w" x="1110.7" y="936.1"/><use href="#bx" class="w" x="1137.5" y="936.1"/><use href="#bx" class="sb" x="1164.3" y="936.1"/>
<text class="t m" x="855" y="956.8">In absence of target cells</text>
<text class="t m" x="882.6" y="964.2">CylL<tspan style="font-size:4px">L</tspan>”</text>
<circle class="c" cx="882.6" cy="970" r="2.4"/><circle class="c" cx="882.6" cy="979.2" r="2.4"/>
<text class="t m" x="882.6" y="987.5">CylL<tspan style="font-size:4px">S</tspan>”</text>
<text class="t" x="931.6" y="974.5">No signaling induction</text>
</g>
<g id="bacillus">
<text class="t" x="705.8" y="1002">Bacillus</text>
<use href="#bx" class="w" x="743.3" y="1009.1"/><use href="#bx" class="w" x="835.2" y="1015.3"/>
<circle class="c" cx="882.6" cy="1014" r="2.4"/><text class="t m" x="882.6" y="1022.8">ComX</text>
<g transform="translate(946.2,1009.1)"><use href="#bx" class="w"/><text class="ec" x="13.4" y="4.9">EC:2.7.13.3</text></g>
<text class="t m" x="1009.3" y="1008">+p</text><use href="#bx" class="w" x="1018.1" y="1009.1"/>
<use href="#bx" class="w" x="1110.7" y="998.7"/><use href="#bx" class="w" x="1170.8" y="998.7"/>
<text class="t" x="1205.2" y="1004.4">Competence gene expression</text>
<use href="#bx" class="w" x="1110.7" y="1009.5"/><use href="#bx" class="be" x="1137.5" y="1009.5"/>
<text class="t" x="1166.2" y="1019.4">Surfactin production</text>
<use href="#bx" class="w" x="1110.7" y="1020.3"/><use href="#bx" class="w" x="1137.5" y="1020.3"/>
<use href="#bx" class="w" x="743.3" y="1049.6"/><use href="#bx" class="w" x="743.3" y="1060.4"/><use href="#bx" class="w" x="743.3" y="1071.2"/><use href="#bx" class="w" x="743.3" y="1082"/><use href="#bx" class="w" x="743.3" y="1092.8"/><use href="#bx" class="w" x="743.3" y="1103.6"/><use href="#bx" class="w" x="743.3" y="1114.4"/>
<g transform="translate(780.4,1080.5)"><use href="#bx" class="sb"/><text class="ec" x="13.4" y="4.9">EC:3.6.5.4</text></g>
<circle class="c" cx="882.6" cy="1085.4" r="2.4"/><text class="t m" x="882.6" y="1094.4">Phr</text>
<use href="#bx" class="bl" x="946.2" y="1080.5"/>
<use href="#bx" class="w" x="1018.1" y="1048.8"/><use href="#bx" class="w" x="1018.1" y="1059.6"/><use href="#bx" class="w" x="1018.1" y="1070.4"/><use href="#bx" class="w" x="1018.1" y="1081.2"/><use href="#bx" class="w" x="1018.1" y="1092"/><use href="#bx" class="w" x="1018.1" y="1102.8"/><use href="#bx" class="w" x="1018.1" y="1113.6"/><use href="#bx" class="w" x="1018.1" y="1124.4"/>
<use href="#bx" class="w" x="1078.2" y="1081"/><text class="t" x="1136.4" y="1087">Degradative enzymes</text>
<use href="#bx" class="bl" x="1078.2" y="1103.2"/><use href="#bx" class="w" x="1078.2" y="1115.1"/>
<text class="t m" x="1070.5" y="1102">-p</text><text class="t m" x="1117.8" y="1118.8">+p</text>
<use href="#bx" class="w" x="1127.5" y="1109.2"/><text class="t" x="1186.9" y="1114.1">Sporulation genes</text>
</g>
<g id="b-thuringiensis">
<text class="t" x="705.8" y="1155.7">Bacillus thuringiensis</text>
<use href="#bx" class="w" x="743.3" y="1176.6"/>
<g transform="translate(780.4,1176.6)"><use href="#bx" class="sb"/><text class="ec" x="13.4" y="4.9">EC:3.6.5.4</text></g>
<use href="#bx" class="w" x="835.2" y="1182.8"/>
<circle class="c" cx="882.6" cy="1181.5" r="2.4"/><text class="t m" x="882.6" y="1190.7">PapR</text>
<use href="#bx" class="bl" x="946.2" y="1176.6"/><use href="#bx" class="w" x="1018.1" y="1176.6"/>
<use href="#bx" class="w" x="1110.7" y="1160.8"/><use href="#bx" class="w" x="1137.5" y="1160.8"/>
<g transform="translate(1110.7,1171.5)"><use href="#bx" class="w"/><text class="ec" x="13.4" y="4.9">EC:3.1.4.3</text></g>
<text class="t" x="1141" y="1177.6">Phospholipase</text>
<use href="#bx" class="w" x="1110.7" y="1182.3"/><use href="#bx" class="w" x="1137.5" y="1182.3"/><text class="t" x="1168" y="1188.2">Enterotoxin</text>
<use href="#bx" class="w" x="1110.7" y="1193.1"/><use href="#bx" class="w" x="1137.5" y="1193.1"/>
<text class="t" x="1237.8" y="1181.9">Virulence</text>
<use href="#bx" class="w" x="743.3" y="1233.4"/>
<g transform="translate(780.4,1233.4)"><use href="#bx" class="sb"/><text class="ec" x="13.4" y="4.9">EC:3.6.5.4</text></g>
<circle class="c" cx="882.6" cy="1238.3" r="2.4"/><text class="t m" x="882.6" y="1247.1">NprX</text>
<use href="#bx" class="bl" x="946.2" y="1233.4"/><use href="#bx" class="w" x="1018.1" y="1233.4"/>
<text class="t" x="1114.2" y="1234">Degradation enzyme</text><text class="t" x="1206.4" y="1234">Necrotrophism</text>
<text class="t" x="1114.2" y="1244.6">Lipopeptide</text><text class="t" x="1183" y="1244.6">Biofilm formation</text>
</g>
<g id="gram-positive">
<text class="t" x="705.8" y="1275.2">Gram-positive bacteria</text>
<use href="#bx" class="w" x="723" y="1308.7"/><use href="#bx" class="w" x="751.7" y="1302.6"/><use href="#bx" class="w" x="751.7" y="1314.4"/>
<use href="#bx" class="w" x="780.4" y="1308.6"/><use href="#bx" class="w" x="835.2" y="1314.4"/>
<text class="t m" x="881.8" y="1305.8">Mature antimicrobial peptide</text>
<circle class="c" cx="882.6" cy="1313.5" r="2.4"/>
<g transform="translate(946.2,1308.6)"><use href="#bx" class="w"/><text class="ec" x="13.4" y="4.9">EC:2.7.13.3</text></g>
<text class="t m" x="1009.3" y="1307.5">+p</text><use href="#bx" class="w" x="1018.1" y="1308.6"/>
<use href="#bx" class="w" x="1110.7" y="1281.9"/><text class="t" x="1141" y="1287.6">Antimicrobial peptide precursor</text>
<use href="#bx" class="w" x="1110.7" y="1292.6"/><use href="#bx" class="w" x="1137.5" y="1292.6"/><text class="t" x="1166.9" y="1298.2">Modification</text>
<use href="#bx" class="w" x="1110.7" y="1303.3"/><text class="t" x="1141" y="1309.6">Transport</text>
<use href="#bx" class="w" x="1110.7" y="1314"/><text class="t" x="1141" y="1319.8">Processing</text>
<g transform="translate(1110.7,1324.7)"><use href="#bx" class="w"/><text class="ec" x="13.4" y="4.9">EC:2.7.13.3</text></g>
<use href="#bx" class="w" x="1137.5" y="1324.7"/><text class="t" x="1168" y="1330.7">Sensing system</text>
<use href="#bx" class="w" x="1110.7" y="1335.5"/><use href="#bx" class="w" x="1137.5" y="1335.5"/><use href="#bx" class="w" x="1164.3" y="1335.5"/><use href="#bx" class="w" x="1191.1" y="1335.5"/>
<text class="t" x="1223.6" y="1341.2">Immunity</text>
</g>

<!-- ===== CONNECTORS ===== -->
<g id="connectors">
<path class="l a" d="M162.1,138.6H217.7M162.1,156.8H217.7M162.1,175.2H217.7"/>
<path class="l i" d="M222.5,138.6H234"/><path class="l" d="M222.5,156.8H236.6"/><path class="l i" d="M222.5,175.2H234"/>
<path class="l a" d="M289.4,138.6L328.8,156.2"/><path class="l a" d="M263.4,156.8H328.8"/><path class="l a" d="M263.4,175.2L328.8,157.6"/>
<path class="l a" d="M355.8,156.8H387.5"/><text class="e" x="431.7" y="156.3">e</text><path class="l a" d="M414.3,156.8H446.5"/>
<path class="l a" d="M473.3,155L493.4,134.5"/><path class="l a" d="M473.3,158.6L493.4,178"/>
<text class="e" x="481.3" y="146">e</text><text class="e" x="481.3" y="168">e</text>
<path class="l i" d="M509.9,173.2V139.5"/><path class="l i" d="M505.4,138.7V172.5"/>
<text class="e" x="503.5" y="156.4">e</text><text class="e" x="511.8" y="156.4">e</text>
<path class="l d a" d="M520.2,133.7H564"/><path class="l d a" d="M520.2,177L564,165"/><path class="l d a" d="M520.2,178H564"/><path class="l a" d="M520.2,180L568.4,192.5"/><text class="e" x="544.7" y="185">e</text>
<path class="l a" d="M162.1,229.5H217.7"/><path class="l a" d="M222.5,229.5H288.4"/><path class="l a" d="M315.2,229.5H451"/><text class="e" x="414.8" y="229">e</text>
<path class="l d a" d="M625.5,235.5H645.5"/>
<path class="l a" d="M162.1,285.4H217.7"/><path class="l a" d="M222.5,285.4H288.4"/>
<path class="l a" d="M315.2,285L451,274"/><path class="l a" d="M315.2,285.4H451"/><path class="l a" d="M315.2,286L450.5,310"/><path class="l a" d="M315.2,287L450.8,359.5"/>
<text class="e" x="359.4" y="281">e</text><text class="e" x="359.4" y="285">e</text><text class="e" x="359.4" y="294">e</text><text class="e" x="359.4" y="311">e</text>
<path class="l a" d="M175.5,361.2H217.7"/><path class="l a" d="M222.5,361.2H288.4"/>
<path class="l a" d="M315.2,361.4H451"/><text class="e" x="347.3" y="361">e</text>
<path class="l a" d="M315.2,359.5L450.5,309.5"/><text class="e" x="347.4" y="347.4">e</text>
<path class="l i" d="M315.2,393L408.5,330Q425,318 440,318H448.7"/><text class="e" x="394.2" y="341">e</text>
<path class="l a" d="M315.2,394.5L433,363.1Q440,361.4 450.8,361.4"/><text class="e" x="394.2" y="373.8">e</text>
<path class="l a" d="M162.1,395.2H217.7"/><path class="l a" d="M222.5,395.2H288.4"/><path class="l a" d="M315.2,395.2H451"/><text class="e" x="393.3" y="394.7">e</text>
<path class="l d a" d="M324.6,290.8V434Q324.6,438 328.6,438H440"/>
<path class="l" d="M315.2,364.6Q324.6,364.6 324.6,370M315.2,397.9Q324.6,397.9 324.6,403"/>
<path class="l a" d="M162.1,494H217.7"/><path class="l a" d="M222.5,494H288.4"/><path class="l a" d="M315.2,494H451"/><text class="e" x="414.8" y="493.5">e</text>
<path class="l d a" d="M121.9,541.5H217.7"/><path class="l d a" d="M122,544L176.3,557.6"/><path class="l d a" d="M122,545.5L186.2,578.3"/><path class="l d a" d="M122,547L216.6,623.8"/><path class="l d a" d="M122,548.5L216.8,648.8"/>
<path class="l a" d="M222.5,541.5H236.6"/><path class="l a" d="M263.4,541.8H288.4"/><path class="l a" d="M263.4,544.5L288.4,560"/><path class="l a" d="M263.4,546.5L288.4,579.5"/>
<path class="l a" d="M221,557L236.6,544"/><path class="l a" d="M221.5,562L236.6,580.5"/><path class="l a" d="M222.5,582.3H236.6"/>
<path class="l a" d="M263.4,582.4H288.4"/>
<path class="l a" d="M315.2,542H451"/><text class="e" x="414.8" y="541.5">e</text>
<path class="l a" d="M315.2,543L447.8,621.4"/><text class="e" x="415" y="606.6">e</text>
<path class="l i" d="M315.2,561.6L448.7,599"/><text class="e" x="430" y="590.5">e</text>
<path class="l d a" d="M315.2,582.1H447.8"/><path class="l d i" d="M315.2,584L448.7,604"/>
<path class="l d" d="M477.8,587.5H526Q529.5,587.5 529.5,591V622Q529.5,626.5 533,626.5"/>
<path class="l a" d="M222.5,626.9H236.6"/><path class="l a" d="M263.4,626.9H288.4"/>
<path class="l i" d="M315.2,626.9H448.7"/><text class="e" x="415" y="626.4">e</text>
<path class="l d a" d="M477.8,626.5H551.4"/>
<path class="l a" d="M222.5,651.8H288.4"/><path class="l a" d="M315.2,651.8H451"/><text class="e" x="415" y="651.3">e</text>
<path class="l d a" d="M562.5,651.8H596"/>
<path class="l a" d="M162.1,685.2H202.1"/><path class="l d a" d="M288.8,685.2H341.4"/>
<path class="l i" d="M346.2,685.4H382.6"/><path class="l i" d="M411.7,685.6H448.7"/><text class="e" x="429.5" y="685">e</text>
<path class="l a" d="M162.1,724.4H217.7"/><path class="l a" d="M222.5,724.4H288.4"/><path class="l a" d="M315.2,724.4H451"/><text class="e" x="414.8" y="724">e</text>
<path class="l a" d="M315.2,726L360.4,743.4"/><text class="e" x="337" y="734">e</text>
<path class="l i" d="M387.5,743.2H424Q427.3,743.2 427.3,739V728"/>
<path class="l a" d="M162.1,773.5H217.7"/><path class="l a" d="M222.5,773.5H288.4"/><path class="l a" d="M315.2,773.5H451"/><text class="e" x="414.3" y="773">e</text>
<path class="l d a" d="M477.8,773.5H511Q514.8,773.5 514.8,777V788.4"/>
<path class="l a" d="M222,775.5L287.9,807.5"/>
<path class="l i" d="M315.2,809L415,784Q425,778.7 435,778.7H448.7"/><text class="e" x="414.3" y="784">e</text>
<path class="l a" d="M315.2,810H451"/><text class="e" x="414.8" y="809.5">e</text>
<path class="l a" d="M162.1,826.6H217.7"/><path class="l a" d="M222.5,826.6H288.4"/><path class="l a" d="M315.2,826.6H451"/><text class="e" x="414.8" y="826.1">e</text>
<path class="l d a" d="M477.8,832.8H515.6"/>
<path class="l a" d="M162.1,853.9H217.7"/><path class="l a" d="M222.5,853.9H288.4"/><path class="l a" d="M315.2,853.9H451"/><text class="e" x="414.8" y="853.4">e</text>
<path class="l a" d="M162.1,878H217.7"/><path class="l a" d="M222.5,878H288.4"/><path class="l a" d="M315.2,878H451"/><text class="e" x="414.8" y="877.5">e</text>
<path class="l d a" d="M105.8,913L217.7,928.6"/><path class="l d a" d="M90,916L216.6,1019.6"/>
<path class="l i" d="M222.5,928.6H286.6"/><path class="l i" d="M315.2,928.6H448.7"/><text class="e" x="414.8" y="928.1">e</text>
<path class="l i" d="M301.8,954.1V965.1"/>
<path class="l a" d="M162.1,973.5H217.7"/><path class="l a" d="M222.5,973.5H288.4"/><path class="l a" d="M315.2,973.5H451"/><text class="e" x="414.8" y="973">e</text>
<path class="l d a" d="M315.2,975Q325,975 330,978L380,993Q385,995.7 392,995.7H446.5"/>
<path class="l i" d="M331.7,1018.6V994Q331.7,990.4 328,990.4H301.8"/><text class="e" x="331.7" y="1006.5">e</text>
<path class="l d a" d="M269.8,973.5Q273.7,975 273.7,980V998Q273.7,1003.2 268,1003.2H238.8"/>
<path class="l d a" d="M222.5,1023.1H288.2"/><path class="l i" d="M293,1023.1H316"/>
<path class="l a" d="M162.1,1059.5H217.7"/><path class="l a" d="M222.5,1059.5H288.4"/><path class="l a" d="M315.2,1059.5H451"/><text class="e" x="414.8" y="1059">e</text>
<path class="l a" d="M162.1,1099.5H217.7"/><path class="l i" d="M222.5,1099.5H286.6"/><path class="l i" d="M315.2,1099.5H448.7"/><text class="e" x="414.8" y="1099">e</text>
<path class="l a" d="M162.1,1141.2H217.7"/><path class="l a" d="M222.5,1141.2H288.4"/><path class="l a" d="M315.2,1141.2H450.8"/>
<path class="l a" d="M162.1,1185.3H217.7"/><path class="l a" d="M222.5,1185.3H288.4"/><path class="l i" d="M315.2,1185.3H448.7"/><text class="e" x="434" y="1184.8">e</text>
<path class="l a" d="M315.2,1184L450.8,1150"/><text class="e" x="434" y="1153">e</text>
<path class="l a" d="M162.1,1207.4H217.7"/><path class="l a" d="M222.5,1207.4H288.4"/><path class="l i" d="M315.2,1207.4H391.8"/>
<path class="l i" d="M399,1206Q405,1205 406,1195L411,1140Q412,1134.2 418,1134.2H448.7"/><text class="e" x="434" y="1134">e</text><text class="e" x="434" y="1141">e</text>
<path class="l d a" d="M315.2,1144.5Q325,1144.5 325,1150V1228Q325,1232.1 329,1232.1H502.8"/>
<path class="l d" d="M399,1209Q405,1210 405,1216V1228Q405,1232.1 409,1232.1M477.8,1185Q486.7,1185 486.7,1191V1228Q486.7,1232.1 490,1232.1"/>
<path class="l a" d="M162.1,1299.5H217.7"/><path class="l a" d="M222.5,1299.5H236.6"/><path class="l a" d="M263.4,1299.5H288.4"/>
<path class="l i" d="M315.2,1299.5H339.6"/><path class="l i" d="M346.2,1299.5H382.2"/>
<path class="l a" d="M411.7,1298L450.8,1284"/><text class="e" x="433" y="1290">e</text>
<path class="l a" d="M411.7,1299.5H450.8"/><text class="e" x="434" y="1299">e</text>
<path class="l d a" d="M477.8,1284.5H504.5"/><path class="l d a" d="M477.8,1299.5H504.5"/>
<path class="l d a" d="M411.7,1302L447.8,1320.6"/><path class="l d a" d="M345.5,1301.5L450,1344.3"/>
<path class="l a" d="M162.1,1388.6H217.7"/><path class="l a" d="M222.5,1388.6H288.4"/>
<path class="l a" d="M315.2,1388.6L450.8,1375.5"/><path class="l a" d="M315.2,1388.6H450.8"/><path class="l a" d="M315.2,1388.6L450.8,1406.5"/>
<text class="e" x="414.8" y="1379">e</text><text class="e" x="414.8" y="1388">e</text><text class="e" x="414.8" y="1402">e</text>
<path class="l a" d="M477.8,1388.6H507.4"/><path class="l a" d="M477.8,1406.5H507.4"/>
<text class="e" x="490" y="1388">e</text><text class="e" x="490" y="1406">e</text>
<path class="l a" d="M162.1,1448H217.7"/><path class="l a" d="M222.5,1448H288.4"/><path class="l a" d="M315.2,1448H451"/><text class="e" x="414.8" y="1447.5">e</text>
<path class="l d a" d="M315.2,1449.5L446.5,1460.6"/>
<path class="l a" d="M162.1,1483.7H217.7"/><path class="l a" d="M222.5,1483.7H288.4"/><path class="l a" d="M315.2,1483.7H451"/><text class="e" x="414.8" y="1483.2">e</text>
<path class="l d a" d="M770.1,146.6H880.2"/><path class="l a" d="M885,146.6H946.2"/><path class="l a" d="M973,146.6H1018.1"/>
<path class="l a" d="M1044.9,146.6H1110.5"/><text class="e" x="1074.4" y="146.1">e</text>
<path class="l a" d="M1044.9,148L1110.5,213.5"/><text class="e" x="1074.4" y="178.6">e</text>
<path class="l d a" d="M1137.5,213L1195,192.7"/><path class="l d i" d="M1137.5,215L1195,228"/>
<path class="l d i" d="M1044.9,150L1106.5,251"/>
<path class="l d a" d="M770.1,290.4H880.2"/><path class="l a" d="M885,290.4H946.2"/><path class="l a" d="M973,290.4H1018.1"/><path class="l d a" d="M1044.9,290.4H1110.5"/>
<path class="l d a" d="M770.1,348.3H880.2"/><path class="l a" d="M885,348.3H946.2"/><path class="l a" d="M973,348.3H1018.1"/><path class="l d a" d="M1044.9,348.3H1110.5"/>
<path class="l a" d="M885,404H946.2"/><path class="l a" d="M973,404H1018.1"/><path class="l i" d="M1044.9,404L1108.5,419.5"/><text class="e" x="1074.4" y="411.5">e</text>
<path class="l d" d="M770.1,424.4H780.4"/><path class="l d a" d="M807.2,424.4H880.2"/><path class="l a" d="M885,424.4H946.2"/><path class="l a" d="M973,424.4H1018.1"/>
<path class="l a" d="M1044.9,424.4H1110.5"/><text class="e" x="1074.4" y="424">e</text>
<path class="l a" d="M1044.9,426L1110.5,445"/><text class="e" x="1074.4" y="435">e</text>
<path class="l d a" d="M1044.9,428L1110.3,502"/>
<path class="l d a" d="M770.1,477.9H880.2"/><path class="l" d="M885,477.9H946.2"/><path class="l a" d="M973,477.9H1018.1"/>
<path class="l a" d="M1044.9,477.9H1110.5"/><text class="e" x="1074.4" y="477.4">e</text>
<path class="l a" d="M1044.9,479L1110.5,503"/><text class="e" x="1074.4" y="490.3">e</text>
<path class="l a" d="M1137.5,503.9H1180.4"/><text class="e" x="1155.5" y="503.4">e</text>
<path class="l d" d="M770.1,552.7H780.4"/><path class="l d a" d="M807.2,552.7H880.2"/><path class="l a" d="M885,552.7H946.2"/><path class="l a" d="M973,552.7H1018.1"/>
<path class="l a" d="M1044.9,552.7H1110.5"/><text class="e" x="1074.4" y="552.2">e</text>
<path class="l d a" d="M770.1,603.7H880.2"/><path class="l" d="M885,603.7H946.2"/><path class="l a" d="M973,603.7H1018.1"/>
<path class="l a" d="M1044.9,604L1110.3,612.8"/><text class="e" x="1074.4" y="607.5">e</text>
<path class="l d a" d="M770.1,619.8H880.2"/><path class="l" d="M885,619.8H946.2"/><path class="l a" d="M973,619.8H1018.1"/>
<path class="l i" d="M1044.9,620L1108.5,617.2"/><text class="e" x="1074.4" y="618.5">e</text>
<path class="l a" d="M885,649.3H1018.1"/><path class="l a" d="M1044.9,649.3H1110.5"/><text class="e" x="1074.4" y="648.8">e</text>
<path class="l d a" d="M1191,649.3H1221.3"/>
<path class="l" d="M1027,656.9H1035M1031,656.9L1002.4,680"/>
<path class="l d a" d="M1044.9,607Q1054.8,607 1054.8,612V676Q1054.8,680 1059,680H1110.5"/>
<path class="l d a" d="M770.1,744H880.2"/><path class="l" d="M885,744H946.2"/><path class="l a" d="M973,745L1018.1,750"/>
<path class="l d a" d="M770.1,760.3H880.2"/><path class="l" d="M885,760.3H946.2"/><path class="l i" d="M973,759L1015.8,753.5"/>
<path class="l i" d="M1044.9,752H1108.5"/><text class="e" x="1074.4" y="751.5">e</text>
<path class="l d a" d="M1044.9,755Q1054.8,755 1054.8,760V778Q1054.8,782 1059,782H1110.5"/>
<path class="l d a" d="M770.1,814.7H880.2"/><path class="l" d="M885,814.7H946.2"/><path class="l a" d="M973,817L1018.1,821.5"/>
<path class="l d a" d="M770.1,831.1H880.2"/><path class="l" d="M885,831.1H946.2"/><path class="l i" d="M973,829L1015.8,825.5"/>
<path class="l i" d="M1044.9,823.6H1108.5"/><text class="e" x="1074.4" y="823.1">e</text>
<path class="l a" d="M1137.5,829.4H1172.5"/>
<path class="l d a" d="M1044.9,826Q1054.8,826 1054.8,831V843Q1054.8,847.4 1059,847.4H1110.5"/>
<path class="l d a" d="M770.1,880.8H880.2"/><path class="l a" d="M885,880.8H946.2"/><path class="l a" d="M973,880.8H1018.1"/>
<path class="l a" d="M1044.9,880.8H1110.5"/><text class="e" x="1074.4" y="880.3">e</text>
<path class="l d a" d="M1180.4,885.8H1210.2"/>
<path class="l d a" d="M906.7,912.3H928.5"/><path class="l d" d="M885,926.1H892Q895,926 895,922V916Q895,912.3 900,912.3H906.7"/>
<path class="l d" d="M749.8,930.6H780.4"/><path class="l d a" d="M807.2,930.6H878.5"/>
<path class="l a" d="M885,935.7H946.2"/><path class="l d i" d="M973,935.7H1015.8"/><path class="l i" d="M1044.9,935.7H1108.5"/><text class="e" x="1074.4" y="935.2">e</text>
<path class="l" d="M882.6,972.4V976.8"/><path class="l d a" d="M886.4,974.5H928.5"/>
<path class="l d a" d="M770.1,1014H880.2"/><path class="l a" d="M885,1014H946.2"/><path class="l a" d="M973,1014H1018.1"/>
<path class="l a" d="M1044.9,1014H1110.5"/><text class="e" x="1074.4" y="1013.5">e</text>
<path class="l d a" d="M1137.5,1003.6H1170.6"/>
<path class="l i" d="M1052.2,1100V1080Q1052.2,1075.3 1057,1075.3H1063Q1067.5,1075.3 1067.5,1071V1043Q1067.5,1038.4 1063,1038.4H1035.5Q1031.3,1038.4 1031.3,1034V1023.4"/>
<path class="l d" d="M770.1,1085.4H780.4"/><path class="l d a" d="M807.2,1085.4H880.2"/><path class="l" d="M885,1085.4H946.2"/><path class="l i" d="M973,1085.4H1015.8"/>
<path class="l i" d="M1044.9,1086H1076"/>
<path class="l" d="M1044.9,1097L1075,1087M1044.9,1097L1075,1107.8M1044.9,1107.8H1075M1044.9,1118.5L1075,1107.8M1044.9,1129.2L1075,1107.8"/>
<path class="l a" d="M1075,1107.8H1078.2"/>
<path class="l a" d="M1104.2,1085.8H1132.5"/><text class="e" x="1115.3" y="1085.3">e</text>
<path class="l a" d="M1104.2,1109.2L1127.3,1114"/>
<path class="l a" d="M1154.3,1114H1180.4"/><text class="e" x="1165" y="1113.5">e</text>
<path class="l d" d="M770.1,1181.5H780.4"/><path class="l d a" d="M807.2,1181.5H880.2"/><path class="l" d="M885,1181.5H946.2"/><path class="l a" d="M973,1181.5H1018.1"/>
<path class="l a" d="M1044.9,1181.5H1110.5"/><text class="e" x="1074.4" y="1181">e</text>
<path class="l d a" d="M1206,1181.9H1232.8"/>
<path class="l d" d="M770.1,1238.3H780.4"/><path class="l d a" d="M807.2,1238.3H880.2"/><path class="l" d="M885,1238.3H946.2"/><path class="l a" d="M973,1238.3H1018.1"/>
<path class="l a" d="M1044.9,1238.3H1110.5"/><text class="e" x="1074.4" y="1237.8">e</text>
<path class="l d a" d="M1173.5,1233.8H1201.4"/><path class="l d a" d="M1151,1244.6H1178.5"/>
<path class="l d" d="M749.8,1312.5H780.4M749.8,1314.5H780.4"/><path class="l d a" d="M807.2,1313.5H880.2"/><path class="l a" d="M885,1313.5H946.2"/><path class="l a" d="M973,1313.5H1018.1"/>
<path class="l a" d="M1044.9,1313.5H1110.5"/><text class="e" x="1074.4" y="1313">e</text>
</g>

<g id="colorbar">
<rect x="1338.8" y="622.8" width="17" height="312.2" fill="url(#cw)" stroke="#000" stroke-width="1"/>
<path d="M1355.8,644.1h5.8M1355.8,692.8h5.8M1355.8,741.6h5.8M1355.8,789.3h5.8M1355.8,838.1h5.8M1355.8,886.9h5.8M1355.8,935h5.8" stroke="#000" stroke-width=".8"/>
<text class="cb" x="1367.5" y="644.1">12000</text><text class="cb" x="1367.5" y="692.8">10000</text><text class="cb" x="1367.5" y="741.6">8000</text><text class="cb" x="1367.5" y="789.3">6000</text><text class="cb" x="1367.5" y="838.1">4000</text><text class="cb" x="1367.5" y="886.9">2000</text><text class="cb" x="1367.5" y="935">0</text>
</g>
</g>
</svg>
